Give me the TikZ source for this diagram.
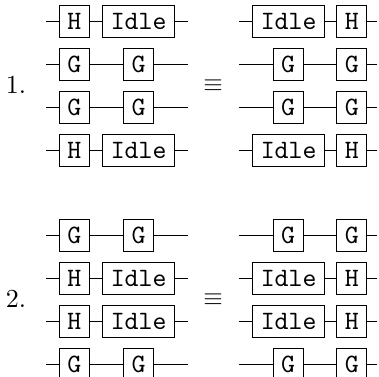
\documentclass[tikz,border=0pt]{standalone}
\begin{document}
\begin{tikzpicture}[x=0.4pt, y=-0.4pt,
  gate/.style={draw, fill=white, line width=0.4pt, inner sep=0pt,
    minimum width=12pt, minimum height=12.8pt,
    font=\fontsize{10.6}{12}\selectfont\ttfamily},
  widegate/.style={gate, minimum width=29pt},
  wire/.style={line width=0.4pt},
  lbl/.style={inner sep=0pt, font=\fontsize{10.4}{12}\selectfont}]
\useasboundingbox (0,0) rectangle (379,377);
\clip (0,0) rectangle (379,377);

% ---------- Identity 1 ----------
\node[lbl] (n1) at (16,85) {1.};
\node[lbl] (eq1) at (213,85.6) {$\equiv$};

% left-hand circuit
\coordinate (a1s) at (46,21.6);   \coordinate (a1e) at (188.3,21.6);
\coordinate (a2s) at (46,64.5);   \coordinate (a2e) at (188.3,64.5);
\coordinate (a3s) at (46,107.4);  \coordinate (a3e) at (188.3,107.4);
\coordinate (a4s) at (46,150.3);  \coordinate (a4e) at (188.3,150.3);
\node[gate]     (a1p) at (74.3,21.6)  {H};
\node[widegate] (a1q) at (138.6,21.6) {Idle};
\node[gate]     (a2p) at (74.3,64.5)  {G};
\node[gate]     (a2q) at (138.6,64.5) {G};
\node[gate]     (a3p) at (74.3,107.4) {G};
\node[gate]     (a3q) at (138.6,107.4){G};
\node[gate]     (a4p) at (74.3,150.3) {H};
\node[widegate] (a4q) at (138.6,150.3){Idle};
\draw[wire] (a1s) -- (a1p) -- (a1q) -- (a1e);
\draw[wire] (a2s) -- (a2p) -- (a2q) -- (a2e);
\draw[wire] (a3s) -- (a3p) -- (a3q) -- (a3e);
\draw[wire] (a4s) -- (a4p) -- (a4q) -- (a4e);

% right-hand circuit
\coordinate (b1s) at (239.3,21.6);   \coordinate (b1e) at (377,21.6);
\coordinate (b2s) at (239.3,64.5);   \coordinate (b2e) at (377,64.5);
\coordinate (b3s) at (239.3,107.4);  \coordinate (b3e) at (377,107.4);
\coordinate (b4s) at (239.3,150.3);  \coordinate (b4e) at (377,150.3);
\node[widegate] (b1p) at (288.6,21.6)  {Idle};
\node[gate]     (b1q) at (351.7,21.6)  {H};
\node[gate]     (b2p) at (288,64.5)    {G};
\node[gate]     (b2q) at (351.7,64.5)  {G};
\node[gate]     (b3p) at (288,107.4)   {G};
\node[gate]     (b3q) at (351.7,107.4) {G};
\node[widegate] (b4p) at (288.6,150.3) {Idle};
\node[gate]     (b4q) at (351.7,150.3) {H};
\draw[wire] (b1s) -- (b1p) -- (b1q) -- (b1e);
\draw[wire] (b2s) -- (b2p) -- (b2q) -- (b2e);
\draw[wire] (b3s) -- (b3p) -- (b3q) -- (b3e);
\draw[wire] (b4s) -- (b4p) -- (b4q) -- (b4e);

% ---------- Identity 2 ----------
\node[lbl] (n2) at (16,299) {2.};
\node[lbl] (eq2) at (213,299.5) {$\equiv$};

% left-hand circuit
\coordinate (c1s) at (46,235.7);  \coordinate (c1e) at (188.3,235.7);
\coordinate (c2s) at (46,278.6);  \coordinate (c2e) at (188.3,278.6);
\coordinate (c3s) at (46,321.5);  \coordinate (c3e) at (188.3,321.5);
\coordinate (c4s) at (46,364.4);  \coordinate (c4e) at (188.3,364.4);
\node[gate]     (c1p) at (74.3,235.7)  {G};
\node[gate]     (c1q) at (138.6,235.7) {G};
\node[gate]     (c2p) at (74.3,278.6)  {H};
\node[widegate] (c2q) at (138.6,278.6) {Idle};
\node[gate]     (c3p) at (74.3,321.5)  {H};
\node[widegate] (c3q) at (138.6,321.5) {Idle};
\node[gate]     (c4p) at (74.3,364.4)  {G};
\node[gate]     (c4q) at (138.6,364.4) {G};
\draw[wire] (c1s) -- (c1p) -- (c1q) -- (c1e);
\draw[wire] (c2s) -- (c2p) -- (c2q) -- (c2e);
\draw[wire] (c3s) -- (c3p) -- (c3q) -- (c3e);
\draw[wire] (c4s) -- (c4p) -- (c4q) -- (c4e);

% right-hand circuit
\coordinate (d1s) at (239.3,235.7);  \coordinate (d1e) at (377,235.7);
\coordinate (d2s) at (239.3,278.6);  \coordinate (d2e) at (377,278.6);
\coordinate (d3s) at (239.3,321.5);  \coordinate (d3e) at (377,321.5);
\coordinate (d4s) at (239.3,364.4);  \coordinate (d4e) at (377,364.4);
\node[gate]     (d1p) at (288,235.7)   {G};
\node[gate]     (d1q) at (351.7,235.7) {G};
\node[widegate] (d2p) at (288.6,278.6) {Idle};
\node[gate]     (d2q) at (351.7,278.6) {H};
\node[widegate] (d3p) at (288.6,321.5) {Idle};
\node[gate]     (d3q) at (351.7,321.5) {H};
\node[gate]     (d4p) at (288,364.4)   {G};
\node[gate]     (d4q) at (351.7,364.4) {G};
\draw[wire] (d1s) -- (d1p) -- (d1q) -- (d1e);
\draw[wire] (d2s) -- (d2p) -- (d2q) -- (d2e);
\draw[wire] (d3s) -- (d3p) -- (d3q) -- (d3e);
\draw[wire] (d4s) -- (d4p) -- (d4q) -- (d4e);
\end{tikzpicture}
\end{document}
